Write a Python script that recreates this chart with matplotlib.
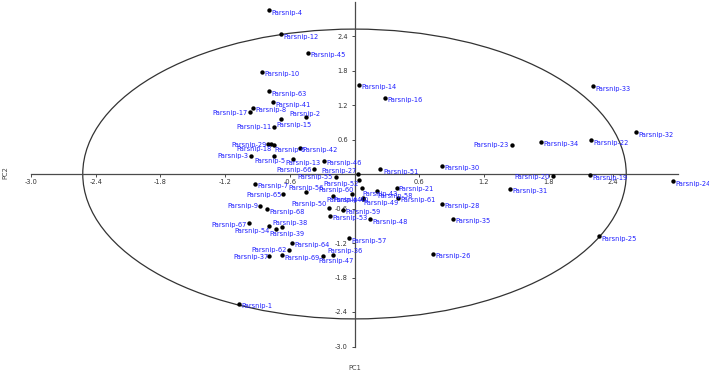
import matplotlib
matplotlib.use("Agg")
import matplotlib.pyplot as plt
from matplotlib.patches import Ellipse

# sample numbers (Parsnip-N)
samples = [1, 2, 3, 4, 5, 6, 7, 8, 9, 10,
           11, 12, 13, 14, 15, 16, 17, 18, 19, 20,
           21, 22, 23, 24, 25, 26, 27, 28, 29, 30,
           31, 32, 33, 34, 35, 36, 37, 38, 39, 40,
           41, 42, 43, 44, 45, 46, 47, 48, 49, 50,
           51, 52, 53, 54, 55, 56, 57, 58, 59, 60,
           61, 62, 63, 64, 65, 66, 67, 68, 69]
pc1 = [-1.07, -0.45, -0.96, -0.79, -0.75, -0.77, -0.92, -0.94, -0.88, -0.86,
       -0.75, -0.68, -0.57, 0.04, -0.68, 0.28, -0.97, -0.75, 2.18, 1.84,
       0.39, 2.19, 1.46, 2.95, 2.27, 0.73, 0.03, 0.81, -0.80, 0.81,
       1.44, 2.61, 2.21, 1.73, 0.91, -0.20, -0.79, -0.67, -0.73, -0.20,
       -0.76, -0.51, 0.07, 0.08, -0.43, -0.28, -0.29, 0.14, 0.08, -0.24,
       0.24, 0.04, -0.23, -0.79, -0.17, -0.45, -0.05, 0.21, -0.11, -0.02,
       0.40, -0.61, -0.79, -0.58, -0.66, -0.38, -0.98, -0.81, -0.67]
pc2 = [-2.26, 0.99, 0.32, 2.85, 0.31, 0.52, -0.17, 1.15, -0.55, 1.78,
       0.82, 2.43, 0.26, 1.55, 0.95, 1.33, 1.07, 0.50, -0.02, -0.03,
       -0.24, 0.59, 0.51, -0.13, -1.08, -1.39, 0.00, -0.52, 0.53, 0.14,
       -0.26, 0.73, 1.53, 0.56, -0.78, -1.40, -1.42, -0.93, -0.96, -0.38,
       1.25, 0.46, -0.25, -0.42, 2.11, 0.23, -1.43, -0.79, -0.44, -0.59,
       0.08, -0.10, -0.73, -0.90, -0.06, -0.31, -1.12, -0.30, -0.62, -0.35,
       -0.41, -1.32, 1.44, -1.20, -0.35, 0.09, -0.86, -0.61, -1.41]

# confidence ellipse radius (in PC units)
ellipse_r = 2.52

# label placement: (ha, dx px, dy px down); default to the right of the dot
label_place = {
    2: ('left', -17, -3), 5: ('left', -19, 5), 6: ('left', 3, 6),
    13: ('left', -8, 4), 15: ('left', -5, 6), 17: ('right', -2, 1),
    11: ('right', -2, 0), 23: ('right', -3, 0), 20: ('right', -3, 1),
    29: ('right', -2, 1), 18: ('right', -2, 4), 3: ('right', -3, 0),
    66: ('right', -2, 1), 55: ('right', -3, 0), 27: ('right', -1, -3),
    52: ('right', 0, 4), 60: ('right', 1, -4), 43: ('left', 0, 6),
    58: ('left', 0, 5), 56: ('left', -18, -4), 65: ('right', -2, 1),
    40: ('left', 0, 4), 49: ('left', 0, 4), 44: ('right', -1, 2),
    50: ('right', -2, -4), 9: ('right', -1, 0), 67: ('right', -2, 2),
    54: ('right', 0, 5), 38: ('left', -10, -4), 39: ('left', -6, 5),
    62: ('right', -2, 0), 37: ('right', -1, 1), 47: ('left', -5, 5),
    36: ('left', -6, -3), 21: ('left', 2, 1),
}

fig = plt.figure(figsize=(7.09, 3.72), dpi=100)
ax = fig.add_axes([31 / 709, 25.5 / 372, 647 / 709, 345 / 372])
ax.set_xlim(-3, 3)
ax.set_ylim(-3, 3)

ax.add_patch(Ellipse((0, 0), 2 * ellipse_r, 2 * ellipse_r, fill=False,
                     edgecolor='#333333', lw=0.9, zorder=1))
ax.scatter(pc1, pc2, s=10, color='black', zorder=3, linewidths=0)

for n, x, y in zip(samples, pc1, pc2):
    ha, dx, dy = label_place.get(n, ('left', 2.5, 2.5))
    ax.annotate('Parsnip-%d' % n, (x, y), xytext=(dx, -dy),
                textcoords='offset pixels', ha=ha, va='center',
                fontsize=4.8, color='#1f1fff', clip_on=False, zorder=4)

for side in ['top', 'right']:
    ax.spines[side].set_visible(False)
for side in ['left', 'bottom']:
    ax.spines[side].set_position(('data', 0))
    ax.spines[side].set_color('#4a4a4a')
    ax.spines[side].set_linewidth(0.9)

ticks = [-3.0, -2.4, -1.8, -1.2, -0.6, 0.6, 1.2, 1.8, 2.4]
ax.set_xticks(ticks)
ax.set_yticks(ticks)
ax.set_xticklabels(['%.1f' % t for t in ticks])
ax.set_yticklabels(['%.1f' % t for t in ticks])
ax.tick_params(direction='out', length=2.2, width=0.7, colors='#4a4a4a',
               labelsize=4.8, labelcolor='#333333')
ax.tick_params(axis='x', pad=1.5)
ax.tick_params(axis='y', pad=2.5)
ax.patch.set_visible(False)

fig.text(355 / 709, 1 - 368 / 372, 'PC1', ha='center', va='center',
         fontsize=4.8, color='#444444')
fig.text(5 / 709, 1 - 173 / 372, 'PC2', ha='center', va='center',
         rotation=90, fontsize=4.8, color='#444444')

fig.savefig('out.png', dpi=100)
